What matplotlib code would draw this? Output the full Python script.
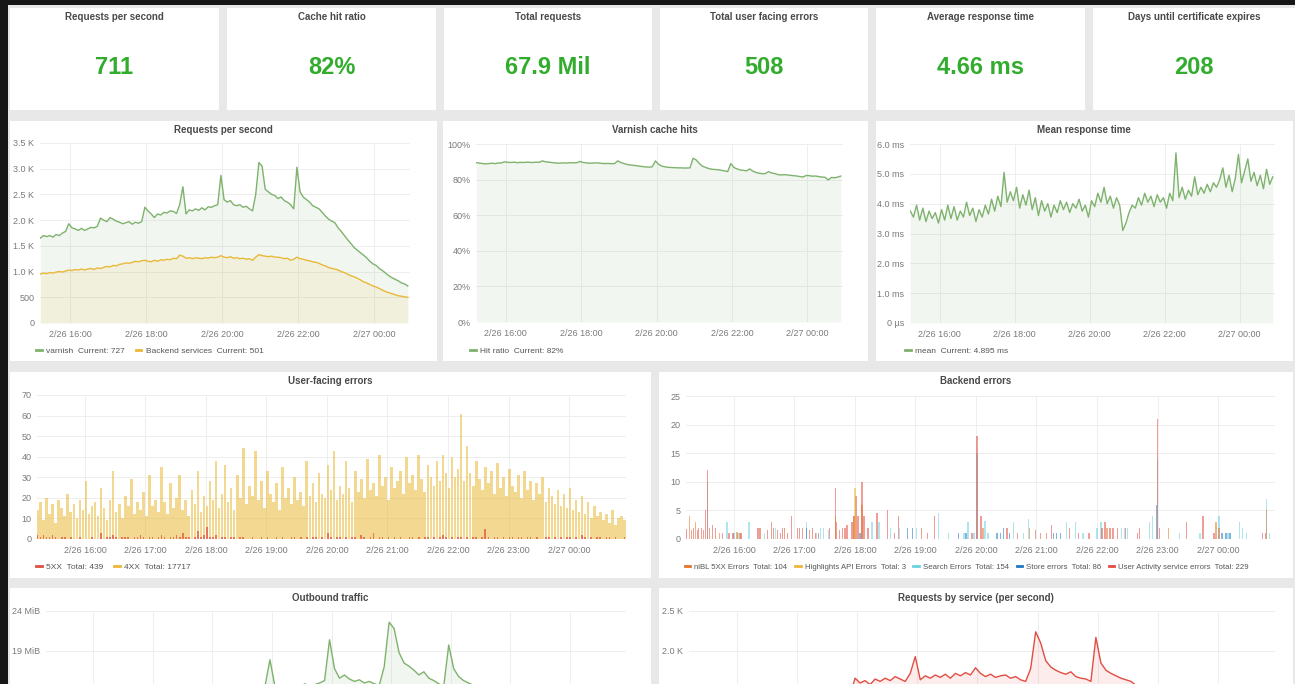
import numpy as np
import pandas as pd
import matplotlib
matplotlib.use("Agg")
import matplotlib.pyplot as plt
import matplotlib.dates as mdates
from matplotlib.patches import Rectangle
from matplotlib.lines import Line2D

plt.rcParams['font.family'] = ['Liberation Sans', 'DejaVu Sans']

# ---- data ----
stat_titles = ["Requests per second", "Cache hit ratio", "Total requests",
               "Total user facing errors", "Average response time",
               "Days until certificate expires"]
stat_values = ["711", "82%", "67.9 Mil", "508", "4.66 ms", "208"]

# 5 minute samples starting 2/26 15:13
varnish = [1.65, 1.70, 1.68, 1.70, 1.67, 1.72, 1.70, 1.75, 1.78,
           1.93, 1.85, 1.83, 1.80, 1.84, 1.80,
           1.83, 1.86, 1.85, 1.88, 2.04, 2.00,
           1.97, 2.05, 2.02, 1.98, 1.96, 1.93,
           1.95, 1.97, 1.92, 1.96, 1.94, 1.97,
           2.25, 2.18, 2.12, 2.05, 2.12, 2.10,
           2.15, 2.14, 2.18, 2.17, 2.13, 2.30,
           2.65, 2.12, 2.20, 2.18, 2.22, 2.19,
           2.24, 2.20, 2.26, 2.25, 2.28, 2.30,
           2.87, 2.40, 2.35, 2.38, 2.30, 2.28,
           2.30, 2.25, 2.27, 2.22, 2.18, 2.50,
           3.12, 3.05, 2.60, 2.55, 2.50, 2.48,
           2.42, 2.45, 2.38, 2.35, 2.30, 2.22,
           3.03, 2.55, 2.45, 2.40, 2.35, 2.28,
           2.25, 2.22, 2.15, 2.08, 2.02, 1.98,
           1.95, 1.85, 1.78, 1.70, 1.62, 1.55,
           1.47, 1.42, 1.37, 1.32, 1.27, 1.20,
           1.15, 1.12, 1.06, 1.02, 0.97, 0.92,
           0.88, 0.85, 0.82, 0.78, 0.76, 0.72]
backend = [0.95, 0.97, 0.96, 0.98, 0.97, 0.99, 1.00, 0.99, 1.01,
           1.03, 1.02, 1.04, 1.03, 1.05, 1.03,
           1.05, 1.06, 1.04, 1.07, 1.06, 1.08,
           1.10, 1.09, 1.12, 1.11, 1.14, 1.15,
           1.17, 1.16, 1.18, 1.20, 1.19, 1.21,
           1.22, 1.20, 1.19, 1.22, 1.20, 1.23,
           1.22, 1.24, 1.23, 1.26, 1.25, 1.32,
           1.30, 1.26, 1.27, 1.25, 1.27, 1.26,
           1.25, 1.27, 1.26, 1.28, 1.27, 1.28,
           1.31, 1.28, 1.27, 1.29, 1.26, 1.27,
           1.25, 1.26, 1.24, 1.25, 1.22, 1.28,
           1.33, 1.31, 1.30, 1.29, 1.30, 1.28,
           1.28, 1.27, 1.25, 1.26, 1.22, 1.24,
           1.28, 1.25, 1.24, 1.22, 1.21, 1.19,
           1.18, 1.16, 1.13, 1.11, 1.08, 1.06,
           1.05, 1.03, 1.00, 0.98, 0.95, 0.92,
           0.90, 0.87, 0.84, 0.80, 0.78, 0.75,
           0.72, 0.70, 0.67, 0.64, 0.61, 0.59,
           0.57, 0.55, 0.53, 0.52, 0.51, 0.50]
hit_ratio = [89.5, 89.3, 89.0, 88.8, 89.0, 89.2, 89.0, 89.3, 89.4,
             90.0, 89.7, 89.6, 89.8, 89.5, 89.7,
             89.6, 89.8, 89.7, 89.6, 89.8, 89.7,
             90.5, 90.0, 89.8, 89.6, 89.4, 89.2,
             89.3, 89.4, 89.3, 89.5, 89.4, 89.5,
             90.2, 89.6, 89.4, 89.2, 89.3, 89.4,
             89.3, 89.1, 89.0, 89.1, 88.9, 89.0,
             90.5, 89.6, 89.0, 88.5, 88.2, 88.0,
             87.8, 87.5, 87.3, 87.1, 87.0, 87.2,
             90.5, 88.6, 87.6, 87.2, 86.9, 86.8,
             86.7, 86.6, 86.6, 86.5, 86.5, 86.6,
             92.0, 91.0, 89.0, 87.5, 86.8, 86.2,
             85.8, 85.7, 85.5, 85.2, 84.9, 84.5,
             89.0, 86.8, 86.0, 85.4, 85.2, 84.9,
             86.0, 84.8, 84.0, 83.6, 83.3, 83.4,
             84.5, 83.7, 83.4, 82.8, 82.6, 82.8,
             82.6, 82.4, 82.2, 82.0, 81.7, 81.5,
             82.3, 82.2, 81.9, 82.0, 81.7, 81.4,
             81.3, 79.8, 81.2, 81.0, 81.4, 82.0]
mean_ms = [3.75, 3.55, 3.95, 3.45, 3.85, 3.40, 3.75, 3.50, 3.70,
           3.35, 3.80, 3.45, 3.95, 3.50, 3.90,
           3.45, 3.75, 3.55, 4.05, 3.60, 3.85,
           3.40, 3.80, 3.55, 3.95, 3.65, 4.15,
           3.75, 4.25, 3.90, 5.05, 4.05, 4.40,
           4.10, 4.55, 3.85, 4.30, 3.95, 4.45,
           3.80, 4.20, 3.60, 4.10, 3.75, 4.00,
           3.55, 3.95, 3.70, 4.10, 3.80, 4.05,
           3.70, 4.00, 3.85, 4.15, 3.75, 3.95,
           3.55, 4.10, 3.90, 4.35, 4.05, 4.55,
           4.00, 4.25, 3.85, 4.20, 3.95, 3.10,
           3.35, 3.70, 3.95, 3.85, 4.20, 3.95,
           4.35, 4.05, 4.25, 3.90, 4.30, 4.05,
           4.20, 3.85, 4.35, 4.10, 5.70, 4.20,
           4.55, 4.15, 4.45, 4.25, 4.90, 4.30,
           4.55, 4.35, 4.65, 4.40, 4.70, 4.55,
           4.80, 5.20, 4.55, 4.95, 4.40, 4.85,
           5.65, 4.70, 5.10, 5.50, 4.75, 5.05,
           4.60, 4.95, 4.50, 5.15, 4.65, 4.90]
outbound_mib = [10.5, 10.8, 10.6, 10.9, 10.7, 11.0, 11.0, 11.2, 11.3,
                12.2, 11.8, 11.7, 11.6, 11.9, 11.7,
                11.9, 12.1, 12.0, 12.2, 13.0, 12.8,
                12.6, 13.1, 12.9, 12.7, 12.6, 12.5,
                12.6, 12.7, 12.5, 12.7, 12.6, 12.8,
                14.2, 13.8, 13.5, 13.2, 13.6, 13.5,
                13.8, 13.7, 14.0, 13.9, 13.8, 14.6,
                17.9, 14.6, 14.2, 14.8, 14.4, 14.7,
                14.5, 14.9, 14.6, 14.8, 15.0, 15.3,
                20.4, 16.8, 15.6, 16.0, 15.5, 15.2,
                15.4, 15.0, 15.2, 14.9, 14.7, 17.0,
                22.6, 21.8, 18.8, 17.5, 17.1, 16.6,
                16.0, 16.4, 15.6, 15.3, 14.9, 14.6,
                19.75, 16.8, 15.8, 15.3, 15.0, 14.7,
                14.5, 14.2, 13.8, 13.4, 13.0, 12.8,
                12.5, 11.9, 11.5, 11.0, 10.5, 10.1,
                9.6, 9.3, 9.0, 8.6, 8.3, 7.9,
                7.6, 7.3, 7.0, 6.8, 6.5, 6.2,
                6.0, 5.8, 5.6, 5.4, 5.2, 5.0]
service_k = [1.20, 1.22, 1.21, 1.23, 1.22, 1.25, 1.24, 1.27, 1.28,
             1.38, 1.33, 1.32, 1.30, 1.33, 1.31,
             1.33, 1.35, 1.34, 1.36, 1.46, 1.44,
             1.42, 1.47, 1.45, 1.43, 1.42, 1.40,
             1.42, 1.43, 1.41, 1.44, 1.43, 1.45,
             1.66, 1.60, 1.63, 1.58, 1.65, 1.62,
             1.66, 1.63, 1.68, 1.65, 1.62, 1.72,
             1.93, 1.64, 1.69, 1.66, 1.70, 1.67,
             1.71, 1.66, 1.72, 1.69, 1.73, 1.70,
             1.79, 1.72, 1.68, 1.71, 1.67, 1.69,
             1.70, 1.66, 1.68, 1.64, 1.62, 1.78,
             2.24, 2.10, 1.88, 1.80, 1.76, 1.73,
             1.71, 1.74, 1.68, 1.66, 1.65, 1.62,
             2.17, 1.85, 1.76, 1.72, 1.69, 1.66,
             1.64, 1.62, 1.57, 1.53, 1.49, 1.45,
             1.42, 1.36, 1.31, 1.26, 1.21, 1.16,
             1.10, 1.06, 1.02, 0.98, 0.94, 0.90,
             0.86, 0.83, 0.80, 0.77, 0.74, 0.71,
             0.68, 0.66, 0.64, 0.62, 0.60, 0.58]

# 3 minute buckets starting 2/26 15:13
errors_4xx = [14, 18, 9, 20, 12, 17, 8, 19, 15, 11, 22, 13, 17, 10, 19, 14, 28, 12, 16, 18,
              11, 25, 15, 9, 19, 33, 13, 17, 10, 21, 16, 29, 12, 18, 14, 23, 11, 31, 16, 19,
              13, 35, 18, 12, 27, 15, 20, 31, 14, 19, 11, 24, 17, 33, 13, 21, 16, 28, 19, 38,
              15, 22, 36, 18, 25, 14, 31, 20, 44, 17, 26, 21, 43, 19, 28, 15, 33, 22, 18, 27,
              14, 35, 20, 25, 17, 30, 19, 23, 16, 38, 21, 27, 18, 32, 22, 20, 36, 24, 43, 19,
              26, 22, 38, 25, 18, 33, 23, 29, 20, 39, 24, 27, 21, 41, 26, 30, 19, 35, 25, 28,
              33, 22, 40, 27, 31, 24, 41, 29, 23, 36, 30, 26, 38, 28, 41, 32, 25, 40, 30, 34,
              61, 28, 45, 32, 26, 38, 29, 24, 35, 27, 33, 22, 37, 25, 30, 21, 34, 26, 23, 31,
              20, 33, 24, 28, 19, 27, 22, 30, 18, 25, 21, 17, 24, 16, 22, 15, 25, 14, 19, 13,
              21, 12, 18, 10, 16, 11, 13, 9, 12, 8, 14, 7, 10, 11, 9]
errors_5xx = [2, 1, 2, 1, 1, 2, 1, 0, 1, 1, 0, 1, 0, 0, 1, 0, 0, 0, 1, 0,
              0, 3, 0, 1, 1, 2, 1, 0, 1, 1, 1, 0, 1, 1, 2, 1, 0, 1, 1, 0,
              1, 2, 1, 0, 1, 1, 2, 1, 3, 1, 1, 0, 1, 4, 1, 2, 6, 1, 1, 2,
              0, 1, 1, 0, 1, 1, 0, 1, 1, 0, 0, 1, 0, 0, 1, 0, 1, 0, 0, 1,
              0, 1, 0, 0, 1, 1, 0, 1, 0, 1, 0, 1, 1, 0, 1, 0, 3, 1, 0, 1,
              1, 0, 1, 0, 1, 1, 0, 2, 1, 0, 1, 3, 0, 1, 1, 0, 1, 0, 1, 0,
              1, 0, 0, 1, 1, 0, 1, 0, 1, 1, 0, 1, 0, 1, 2, 1, 0, 1, 0, 1,
              1, 0, 1, 0, 1, 1, 0, 1, 5, 1, 0, 1, 1, 0, 1, 0, 1, 1, 0, 1,
              1, 0, 1, 1, 0, 1, 0, 0, 1, 1, 0, 1, 0, 1, 0, 1, 1, 0, 1, 0,
              2, 1, 0, 1, 0, 1, 1, 0, 1, 1, 0, 1, 0, 0, 1]

# backend error events
ua_times = ["15:11", "15:13", "15:18", "15:20", "15:24", "15:25", "15:28", "15:30", "15:32",
            "15:34", "15:36", "15:39", "15:42", "15:49", "15:55", "15:59", "16:07", "16:24",
            "16:26", "16:33", "16:37", "16:39", "16:43", "16:46", "16:48", "16:50", "16:53",
            "16:57", "17:03", "17:05", "17:08", "17:15", "17:18", "17:21", "17:24", "17:35",
            "17:41", "17:42", "17:45", "17:48", "17:50", "17:52", "17:57", "17:59", "18:01",
            "18:03", "18:07", "18:09", "18:13", "18:22", "18:32", "18:39", "18:43", "19:06",
            "19:12", "19:19", "19:56", "20:01", "20:05", "20:30", "20:31", "20:41", "20:59",
            "21:04", "21:10", "21:15", "21:33", "21:42", "21:52", "22:05", "22:08", "22:13",
            "22:16", "22:20", "22:28", "22:40", "22:42", "23:00", "23:02", "23:29", "23:45",
            "23:56", "00:44", "00:47"]
ua_vals = [3, 1.7, 1.5, 2, 1.5, 2, 2, 1.5, 5,
           12, 2, 2.5, 2, 1, 1, 1, 1, 2,
           2, 1.5, 3, 2, 1.5, 1, 2, 2, 1,
           4, 2, 2, 2, 1.5, 2, 1, 1, 2,
           9, 3, 1.5, 2, 2, 2.5, 3, 4, 7.5,
           4, 10, 4, 2, 4.5, 5, 1, 4, 2,
           1, 4, 1, 18, 4, 2, 2, 1, 1.5,
           1, 1, 2.5, 2, 1, 1, 2, 3, 2,
           2, 2, 2, 1, 2, 21, 2, 3, 4,
           1, 1, 1]
nibl_times = ["15:16", "15:22", "15:46", "16:03", "16:06", "17:41", "17:59", "18:07",
              "20:07", "20:53", "22:10", "23:11", "23:58", "00:01", "00:48"]
nibl_vals = [4, 3, 1, 1.2, 1, 4, 4, 6, 2, 2, 2, 2, 3, 2, 5]
highlights_times = ["18:00"]
highlights_vals = [9]
search_times = ["15:34", "15:53", "16:00", "16:04", "16:15", "16:30", "16:41", "17:12",
                "17:22", "17:26", "17:29", "17:34", "18:17", "18:24", "18:35", "18:44",
                "19:01", "19:23", "19:33", "19:48", "19:52", "19:58", "20:01", "20:09",
                "20:12", "20:37", "20:47", "20:52", "21:30", "21:39", "21:46", "22:00",
                "22:04", "22:24", "22:27", "22:30", "22:52", "22:55", "23:00", "23:22",
                "23:42", "00:01", "00:10", "00:21", "00:24", "00:28", "00:48", "00:51"]
search_vals = [10, 3, 1, 1, 3, 1, 2, 3,
               1, 2, 2, 1.5, 3, 3, 2, 2,
               2, 4.5, 1, 1, 3, 1, 15, 3.2,
               1, 3, 1, 3.5, 3, 3, 1, 2,
               3, 2, 2, 2, 3, 4, 14, 1,
               1, 4, 1, 3, 2, 1, 7, 1]
store_times = ["17:12", "18:05", "18:52", "18:57", "19:43", "19:50", "20:21", "20:24",
               "20:27", "20:33", "21:17", "21:20", "21:24", "22:59", "00:04", "00:08", "00:12"]
store_vals = [2, 1, 2, 2, 1, 1, 1, 1, 2, 1, 1, 1, 1, 6, 1, 1, 1]

# ---- helpers ----
W, H = 1295, 684
GREEN, YELLOW, RED = '#7eb26d', '#eab839', '#e24d42'
CYAN, BLUE, ORANGE = '#6ed0e0', '#1f78c1', '#e0752d'
TITLE_C, TICK_C = '#4a4a4a', '#7a7a7a'


def hm(s):
    h, m = map(int, s.split(':'))
    day = 27 if h < 12 else 26
    return mdates.date2num(pd.Timestamp(2018, 2, day, h, m).to_pydatetime())


def num(times):
    return mdates.date2num(times.to_pydatetime())


line_t = num(pd.date_range("2018-02-26 15:13", periods=len(varnish), freq="5min"))
bar_t = num(pd.date_range("2018-02-26 15:13", periods=len(errors_4xx), freq="3min"))
X0 = mdates.date2num(pd.Timestamp("2018-02-26 15:12:30").to_pydatetime())
X1 = mdates.date2num(pd.Timestamp("2018-02-27 00:56:30").to_pydatetime())

fig = plt.figure(figsize=(W / 100, H / 100), dpi=100, facecolor='#161616')


def rect(l, t, r, b, color):
    fig.add_artist(Rectangle((l / W, 1 - b / H), (r - l) / W, (b - t) / H,
                             transform=fig.transFigure, color=color, zorder=-5, lw=0))


def ax_px(l, t, r, b):
    ax = fig.add_axes([l / W, 1 - b / H, (r - l) / W, (b - t) / H])
    ax.set_facecolor('none')
    for s in ax.spines.values():
        s.set_visible(False)
    ax.tick_params(length=0, labelsize=6.5, colors=TICK_C, pad=4)
    ax.tick_params(axis='x', pad=5)
    ax.grid(True, color='#eeeeee', lw=0.7)
    ax.set_axisbelow(True)
    ax.set_xlim(X0, X1)
    return ax


def title(x, y, text, size=7):
    fig.text(x / W, 1 - y / H, text, ha='center', va='center', fontsize=size,
             fontweight='bold', color=TITLE_C)


def legend(ax, x, y, entries, size=6, gap=1.3):
    handles = [Line2D([], [], color=c, lw=2) for c, _ in entries]
    ax.legend(handles, [l for _, l in entries], loc='center left',
              bbox_to_anchor=(x / W, 1 - y / H), bbox_transform=fig.transFigure,
              frameon=False, fontsize=size, handlelength=0.7, handletextpad=0.5,
              columnspacing=gap, ncol=len(entries), borderpad=0, borderaxespad=0,
              labelcolor='#555555')


hours2 = ["16:00", "18:00", "20:00", "22:00", "00:00"]
hours1 = ["16:00", "17:00", "18:00", "19:00", "20:00", "21:00", "22:00", "23:00", "00:00"]


def lab(h):
    return ("2/27 " if h.startswith("00") else "2/26 ") + h


# ---- background ----
rect(8, 5, 1295, 684, '#e8e8e8')
stat_x = [(10, 219), (227, 436), (444, 652), (660, 868), (876, 1085), (1093, 1295)]
for (l, r), t, v in zip(stat_x, stat_titles, stat_values):
    rect(l, 8, r, 110, 'white')
    title((l + r) / 2, 17, t)
    fig.text((l + r) / 2 / W, 1 - 68 / H, v, ha='center', va='center', fontsize=17,
             fontweight='bold', color='#32ac2d')

for l, r in [(10, 437), (443, 868), (876, 1293)]:
    rect(l, 121, r, 361, 'white')
for l, r in [(10, 651), (659, 1293)]:
    rect(l, 372, r, 578, 'white')
    rect(l, 588, r, 684, 'white')

# ---- Requests per second ----
ax = ax_px(40, 143, 410, 323)
ax.plot(line_t, varnish, color=GREEN, lw=1)
ax.fill_between(line_t, varnish, color=GREEN, alpha=0.1, lw=0)
ax.plot(line_t, backend, color=YELLOW, lw=1)
ax.fill_between(line_t, backend, color=YELLOW, alpha=0.1, lw=0)
ax.set_ylim(0, 3.5)
ax.set_yticks([0, 0.5, 1, 1.5, 2, 2.5, 3, 3.5])
ax.set_yticklabels(["0", "500", "1.0 K", "1.5 K", "2.0 K", "2.5 K", "3.0 K", "3.5 K"])
ax.set_xticks([hm(h) for h in hours2])
ax.set_xticklabels([lab(h) for h in hours2])
title(223, 130, "Requests per second")
legend(ax, 36, 351, [(GREEN, "varnish  Current: 727"),
                     (YELLOW, "Backend services  Current: 501")])

# ---- Varnish cache hits ----
ax = ax_px(476, 144, 843, 322)
ax.plot(line_t, hit_ratio, color=GREEN, lw=1)
ax.fill_between(line_t, hit_ratio, color=GREEN, alpha=0.1, lw=0)
ax.set_ylim(0, 100)
ax.set_yticks([0, 20, 40, 60, 80, 100])
ax.set_yticklabels(["0%", "20%", "40%", "60%", "80%", "100%"])
ax.set_xticks([hm(h) for h in hours2])
ax.set_xticklabels([lab(h) for h in hours2])
title(655, 130, "Varnish cache hits")
legend(ax, 470, 351, [(GREEN, "Hit ratio  Current: 82%")])

# ---- Mean response time ----
ax = ax_px(910, 144, 1275, 323)
ax.plot(line_t, mean_ms, color=GREEN, lw=1)
ax.fill_between(line_t, mean_ms, color=GREEN, alpha=0.1, lw=0)
ax.set_ylim(0, 6)
ax.set_yticks([0, 1, 2, 3, 4, 5, 6])
ax.set_yticklabels(["0 µs", "1.0 ms", "2.0 ms", "3.0 ms", "4.0 ms", "5.0 ms", "6.0 ms"])
ax.set_xticks([hm(h) for h in hours2])
ax.set_xticklabels([lab(h) for h in hours2])
title(1084, 130, "Mean response time")
legend(ax, 905, 351, [(GREEN, "mean  Current: 4.895 ms")])

# ---- User-facing errors ----
ax = ax_px(37, 395, 626, 539)
ax.bar(bar_t, errors_4xx, width=2.6 / 1440, color=YELLOW, alpha=0.55, lw=0)
ax.bar(bar_t, errors_5xx, width=1.6 / 1440, color=RED, alpha=0.7, lw=0)
ax.set_ylim(0, 70)
ax.set_yticks(range(0, 71, 10))
ax.set_xticks([hm(h) for h in hours1])
ax.set_xticklabels([lab(h) for h in hours1])
title(330, 381, "User-facing errors")
legend(ax, 36, 567, [(RED, "5XX  Total: 439"), (YELLOW, "4XX  Total: 17717")])

# ---- Backend errors ----
ax = ax_px(686, 396, 1275, 539)
bw = 1.3 / 1440
for times, vals, c in [(search_times, search_vals, CYAN),
                       (ua_times, ua_vals, RED),
                       (store_times, store_vals, BLUE),
                       (nibl_times, nibl_vals, ORANGE),
                       (highlights_times, highlights_vals, YELLOW)]:
    ax.bar([hm(s) for s in times], vals, width=bw, color=c, alpha=0.55, lw=0)
ax.set_ylim(0, 25)
ax.set_yticks(range(0, 26, 5))
ax.set_xticks([hm(h) for h in hours1])
ax.set_xticklabels([lab(h) for h in hours1])
title(976, 381, "Backend errors")
legend(ax, 685, 567, [(ORANGE, "niBL 5XX Errors  Total: 104"),
                      (YELLOW, "Highlights API Errors  Total: 3"),
                      (CYAN, "Search Errors  Total: 154"),
                      (BLUE, "Store errors  Total: 86"),
                      (RED, "User Activity service errors  Total: 229")],
       size=5.6, gap=1.0)

# ---- Outbound traffic (cut off at the bottom) ----
ax = ax_px(46, 611, 626, 803)
ax.plot(line_t, outbound_mib, color=GREEN, lw=1)
ax.fill_between(line_t, outbound_mib, color=GREEN, alpha=0.1, lw=0)
ax.set_ylim(0, 24)
ax.set_yticks([19, 24])
ax.set_yticklabels(["19 MiB", "24 MiB"])
ax.set_xticks([hm(h) for h in hours1])
ax.set_xticklabels([])
title(330, 598, "Outbound traffic")

# ---- Requests by service (cut off at the bottom) ----
ax = ax_px(689, 611, 1275, 811)
ax.plot(line_t, service_k, color=RED, lw=1)
ax.fill_between(line_t, service_k, color=RED, alpha=0.1, lw=0)
ax.set_ylim(0, 2.5)
ax.set_yticks([2.0, 2.5])
ax.set_yticklabels(["2.0 K", "2.5 K"])
ax.set_xticks([hm(h) for h in hours1])
ax.set_xticklabels([])
title(976, 598, "Requests by service (per second)")

fig.savefig("out.png", dpi=100, facecolor=fig.get_facecolor())
